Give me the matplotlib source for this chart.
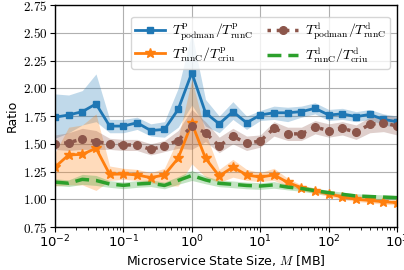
import numpy as np
import matplotlib
matplotlib.use("Agg")
import matplotlib.pyplot as plt
from matplotlib.ticker import FuncFormatter, LogLocator

plt.rcParams['mathtext.fontset'] = 'cm'
plt.rcParams['font.family'] = ['DejaVu Sans']

# state size exponents (log10 MB)
exponents = [-2.0, -1.8, -1.6, -1.4, -1.2, -1.0, -0.8, -0.6, -0.4, -0.2, 0.0, 0.2, 0.4,
             0.6, 0.8, 1.0, 1.2, 1.4, 1.6, 1.8, 2.0, 2.2, 2.4, 2.6, 2.8, 3.0]
state_size = [10 ** e for e in exponents]

p_podman_runc = [1.74, 1.76, 1.79, 1.86, 1.66, 1.66, 1.69, 1.62, 1.63, 1.81, 2.14, 1.78, 1.68,
                 1.79, 1.69, 1.76, 1.78, 1.78, 1.79, 1.82, 1.76, 1.77, 1.745, 1.765, 1.72, 1.70]
p_podman_runc_lo = [1.55, 1.60, 1.67, 1.70, 1.60, 1.60, 1.63, 1.57, 1.56, 1.65, 1.85, 1.66, 1.60,
                    1.72, 1.63, 1.71, 1.72, 1.70, 1.74, 1.77, 1.71, 1.72, 1.70, 1.72, 1.67, 1.65]
p_podman_runc_hi = [1.95, 1.94, 1.98, 2.13, 1.72, 1.72, 1.74, 1.68, 1.70, 2.00, 2.50, 1.90, 1.75,
                    1.88, 1.75, 1.80, 1.84, 1.83, 1.84, 1.87, 1.81, 1.82, 1.79, 1.81, 1.77, 1.75]

p_runc_criu = [1.29, 1.40, 1.405, 1.46, 1.225, 1.228, 1.22, 1.195, 1.22, 1.37, 1.686, 1.37, 1.21,
               1.29, 1.22, 1.20, 1.22, 1.153, 1.105, 1.078, 1.048, 1.022, 1.00, 0.99, 0.978, 0.97]
p_runc_criu_lo = [1.12, 1.13, 1.13, 1.08, 1.17, 1.18, 1.17, 1.15, 1.12, 1.12, 1.32, 1.20, 1.15,
                  1.20, 1.17, 1.16, 1.17, 1.12, 1.08, 1.055, 1.025, 1.00, 0.98, 0.97, 0.955, 0.95]
p_runc_criu_hi = [1.42, 1.65, 1.67, 1.77, 1.30, 1.28, 1.27, 1.24, 1.28, 1.55, 2.08, 1.60, 1.27,
                  1.36, 1.27, 1.24, 1.28, 1.19, 1.13, 1.10, 1.07, 1.045, 1.02, 1.01, 1.00, 0.99]

d_podman_runc = [1.50, 1.51, 1.545, 1.52, 1.50, 1.49, 1.49, 1.45, 1.48, 1.53, 1.66, 1.60, 1.48,
                 1.57, 1.505, 1.525, 1.64, 1.59, 1.59, 1.65, 1.62, 1.64, 1.605, 1.675, 1.69, 1.66]
d_podman_runc_lo = [1.45, 1.44, 1.45, 1.45, 1.45, 1.44, 1.44, 1.40, 1.43, 1.46, 1.45, 1.52, 1.42,
                    1.50, 1.44, 1.47, 1.57, 1.53, 1.53, 1.59, 1.56, 1.58, 1.54, 1.60, 1.61, 1.58]
d_podman_runc_hi = [1.58, 1.60, 1.64, 1.62, 1.55, 1.54, 1.54, 1.50, 1.53, 1.62, 1.81, 1.70, 1.56,
                    1.64, 1.57, 1.58, 1.70, 1.65, 1.65, 1.71, 1.68, 1.70, 1.67, 1.74, 1.76, 1.74]

d_runc_criu = [1.155, 1.145, 1.18, 1.17, 1.138, 1.126, 1.138, 1.145, 1.125, 1.17, 1.215, 1.175, 1.144,
               1.135, 1.125, 1.12, 1.13, 1.11, 1.098, 1.078, 1.06, 1.045, 1.03, 1.025, 1.02, 1.015]
d_runc_criu_err = [0.03, 0.03, 0.045, 0.045, 0.03, 0.03, 0.03, 0.03, 0.03, 0.035, 0.045, 0.035, 0.03,
                   0.03, 0.03, 0.03, 0.03, 0.025, 0.025, 0.025, 0.02, 0.02, 0.02, 0.02, 0.02, 0.02]

labels = [r'$T^{\mathrm{p}}_{\mathrm{podman}}/T^{\mathrm{p}}_{\mathrm{runC}}$',
          r'$T^{\mathrm{p}}_{\mathrm{runC}}/T^{\mathrm{p}}_{\mathrm{criu}}$',
          r'$T^{\mathrm{d}}_{\mathrm{podman}}/T^{\mathrm{d}}_{\mathrm{runC}}$',
          r'$T^{\mathrm{d}}_{\mathrm{runC}}/T^{\mathrm{d}}_{\mathrm{criu}}$']

blue, orange, brown, green = '#1f77b4', '#ff7f0e', '#8c564b', '#2ca02c'

fig = plt.figure(figsize=(4.04, 2.70), dpi=100)
ax = fig.add_axes([0.136, 0.159, 0.847, 0.822])

x = np.array(state_size)
ax.fill_between(x, p_podman_runc_lo, p_podman_runc_hi, color=blue, alpha=0.28, lw=0)
ax.fill_between(x, p_runc_criu_lo, p_runc_criu_hi, color=orange, alpha=0.28, lw=0)
ax.fill_between(x, d_podman_runc_lo, d_podman_runc_hi, color=brown, alpha=0.28, lw=0)
g = np.array(d_runc_criu); ge = np.array(d_runc_criu_err)
ax.fill_between(x, g - ge, g + ge, color=green, alpha=0.28, lw=0)

ax.plot(x, p_podman_runc, color=blue, lw=2.0, marker='s', ms=5, label=labels[0])
ax.plot(x, p_runc_criu, color=orange, lw=2.0, marker='*', ms=7, label=labels[1])
ax.plot(x, d_podman_runc, color=brown, lw=2.5, ls=':', marker='o', ms=5.5, label=labels[2])
ax.plot(x, d_runc_criu, color=green, lw=2.5, ls='--', dashes=(4, 2), label=labels[3])

ax.set_xscale('log')
ax.set_xlim(1e-2, 1e3)
ax.set_ylim(0.75, 2.75)
ax.set_yticks(np.arange(0.75, 2.76, 0.25))
ax.yaxis.set_major_formatter(FuncFormatter(lambda v, p: r'$%.2f$' % v))
ax.xaxis.set_minor_locator(LogLocator(base=10, subs=np.arange(2, 10), numticks=20))
ax.grid(True, which='major', color='#b0b0b0', lw=0.8)
ax.set_axisbelow(True)
ax.tick_params(which='major', labelsize=9.5, length=3.5, pad=1.5)
ax.tick_params(which='minor', length=2)
for s in ax.spines.values():
    s.set_linewidth(1.0)

ax.set_xlabel(r'Microservice State Size, $M$ [MB]', fontsize=9, labelpad=2)
ax.set_ylabel('Ratio', fontsize=9, labelpad=3)

ax.legend(loc='upper right', ncol=2, fontsize=10, frameon=True, handlelength=2.2,
          columnspacing=1.0, borderpad=0.3, labelspacing=0.2, handletextpad=0.5,
          bbox_to_anchor=(1.0, 0.98), framealpha=0.8)

fig.savefig('out.png', dpi=100)
